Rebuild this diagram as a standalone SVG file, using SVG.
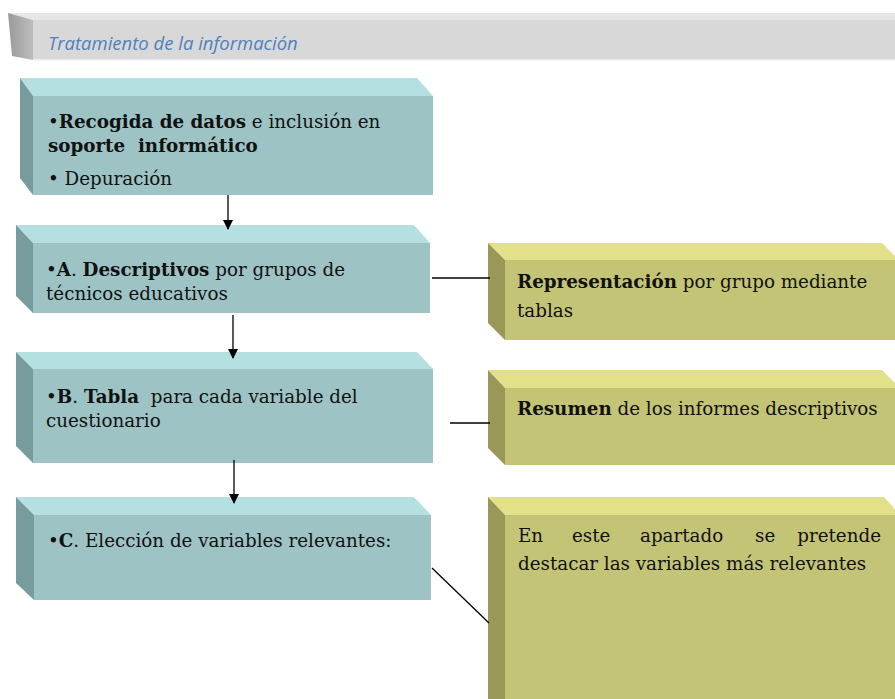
<svg xmlns="http://www.w3.org/2000/svg" width="895" height="699" viewBox="0 0 895 699">
<defs>
<style>
.tt{fill:#b4e0e1}.tf{fill:#9dc3c4}.ts{fill:#789c9d}
.yt{fill:#e2e18a}.yf{fill:#c4c476}.ys{fill:#9a9858}
.t{font-family:"DejaVu Serif","Liberation Serif",serif;font-size:18.3px;fill:#111}
.b{font-weight:bold}
.c{stroke:#000;stroke-width:1.3;fill:none}
</style>
<linearGradient id="hb" x1="0" y1="0" x2="1" y2="0"><stop offset="0" stop-color="#9a9a9a"/><stop offset="1" stop-color="#bdbdbd"/></linearGradient>
<marker id="ar" markerWidth="10" markerHeight="10" refX="9" refY="5" orient="auto" markerUnits="userSpaceOnUse"><path d="M0,0 L10,5 L0,10 Z" fill="#000"/></marker>
</defs>
<rect width="895" height="699" fill="#fff"/>
<g id="header">
<polygon points="8,13 895,13 895,20 33,20" fill="#e6e6e6"/>
<rect x="33" y="20" width="862" height="40" fill="#d8d8d8"/>
<rect x="33" y="59" width="862" height="1.5" fill="#ececec"/>
<polygon points="8,13 33,20 33,60 12,56" fill="url(#hb)"/>
<text x="48" y="50" font-family="'Open Sans','DejaVu Sans',sans-serif" font-style="italic" font-size="18.5" fill="#4f81bd">Tratamiento de la información</text>
</g>
<g id="box1">
<polygon class="tt" points="20,78 417,78 433,96 33,96"/>
<polygon class="ts" points="20,78 33,96 33,195 20,178"/>
<rect class="tf" x="33" y="96" width="400" height="99"/>
<text class="t" x="48" y="128">•<tspan class="b">Recogida de datos</tspan> e inclusión en</text>
<text class="t b" x="48" y="152" xml:space="preserve">soporte  informático</text>
<text class="t" x="48" y="185">• Depuración</text>
</g>
<g id="boxA">
<polygon class="tt" points="16,225 414,225 430,243 33,243"/>
<polygon class="ts" points="16,225 33,243 33,313 16,296"/>
<rect class="tf" x="33" y="243" width="397" height="70"/>
<text class="t" x="46" y="276">•<tspan class="b">A</tspan>. <tspan class="b">Descriptivos</tspan> por grupos de</text>
<text class="t" x="46" y="300">técnicos educativos</text>
</g>
<g id="boxB">
<polygon class="tt" points="16,352 417,352 433,369 33,369"/>
<polygon class="ts" points="16,352 33,369 33,463 16,446"/>
<rect class="tf" x="33" y="369" width="400" height="94"/>
<text class="t" x="46" y="403" xml:space="preserve">•<tspan class="b">B</tspan>. <tspan class="b">Tabla</tspan>  para cada variable del</text>
<text class="t" x="46" y="427">cuestionario</text>
</g>
<g id="boxC">
<polygon class="tt" points="16,497 414,497 431,515 34,515"/>
<polygon class="ts" points="16,497 34,515 34,600 16,583"/>
<rect class="tf" x="34" y="515" width="397" height="85"/>
<text class="t" x="48" y="547">•<tspan class="b">C</tspan>. Elección de variables relevantes:</text>
</g>
<g id="right1">
<polygon class="yt" points="488,243 882,243 895,256 895,260 505,260"/>
<polygon class="ys" points="488,243 505,260 505,340 488,323"/>
<rect class="yf" x="505" y="260" width="390" height="80"/>
<text class="t" x="517" y="288"><tspan class="b">Representación</tspan> por grupo mediante</text>
<text class="t" x="517" y="317">tablas</text>
</g>
<g id="right2">
<polygon class="yt" points="488,370 882,370 895,383 895,388 505,388"/>
<polygon class="ys" points="488,370 505,388 505,465 488,448"/>
<rect class="yf" x="505" y="388" width="390" height="77"/>
<text class="t" x="517" y="415"><tspan class="b">Resumen</tspan> de los informes descriptivos</text>
</g>
<g id="right3">
<polygon class="yt" points="488,497 884,497 895,509 895,515 505,515"/>
<polygon class="ys" points="488,497 505,515 505,699 488,699"/>
<rect class="yf" x="505" y="515" width="390" height="184"/>
<text class="t" y="542"><tspan x="518">En</tspan><tspan x="572">este</tspan><tspan x="640">apartado</tspan><tspan x="755">se</tspan></text>
<text class="t" x="881" y="542" text-anchor="end">pretende</text>
<text class="t" x="518" y="570">destacar las variables más relevantes</text>
</g>
<g id="connectors">
<line class="c" x1="228" y1="195" x2="228" y2="229" marker-end="url(#ar)"/>
<line class="c" x1="233" y1="315" x2="233" y2="358" marker-end="url(#ar)"/>
<line class="c" x1="234" y1="460" x2="234" y2="503" marker-end="url(#ar)"/>
<line class="c" x1="432" y1="278" x2="490" y2="278"/>
<line class="c" x1="450" y1="423" x2="490" y2="423"/>
<line class="c" x1="432" y1="568" x2="489" y2="623"/>
</g>
</svg>
